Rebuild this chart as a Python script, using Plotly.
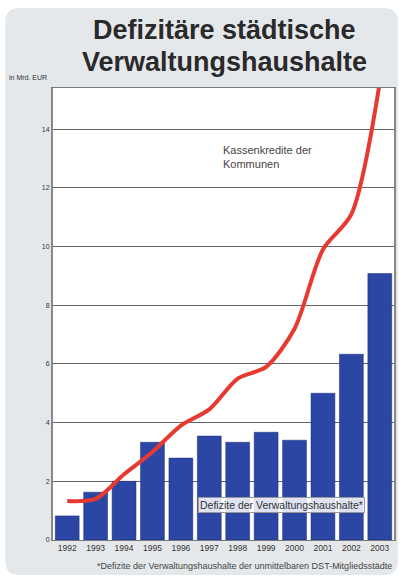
import plotly.graph_objects as go

years = ["1992", "1993", "1994", "1995", "1996", "1997", "1998", "1999", "2000", "2001", "2002", "2003"]
defizite = [0.82, 1.63, 2.0, 3.33, 2.79, 3.54, 3.33, 3.67, 3.40, 5.0, 6.33, 9.08]
kassenkredite = [1.33, 1.4, 2.24, 3.0, 3.9, 4.45, 5.5, 5.9, 7.2, 9.9, 11.1, 15.6]
y_ticks = [0, 2, 4, 6, 8, 10, 12, 14]

W, H = 404, 577
L, R, T, B = 53, 8, 88, 37


def px(xp):
    return (xp - L) / (W - L - R)


def py(yp):
    return (H - B - yp) / (H - T - B)


fig = go.Figure()
fig.add_trace(go.Bar(
    x=years, y=defizite,
    marker=dict(color="#2b46a4", line=dict(color="#1a2a78", width=0.5)),
    name="Defizite",
))
fig.add_trace(go.Scatter(
    x=years, y=kassenkredite, mode="lines",
    line=dict(color="#e63a30", width=4, shape="spline", smoothing=0.8),
    name="Kassenkredite", cliponaxis=True,
))

# card background
r = 14
x0, y0, x1, y1 = px(5), py(8), px(400), py(575)
rx, ry = r / (W - L - R), r / (H - T - B)
path = (f"M {x0+rx},{y0} L {x1-rx},{y0} Q {x1},{y0} {x1},{y0-ry} "
        f"L {x1},{y1+ry} Q {x1},{y1} {x1-rx},{y1} L {x0+rx},{y1} "
        f"Q {x0},{y1} {x0},{y1+ry} L {x0},{y0-ry} Q {x0},{y0} {x0+rx},{y0} Z")
fig.add_shape(type="path", path=path, xref="paper", yref="paper",
              fillcolor="#e5e8eb", line=dict(width=0), layer="below")
fig.add_shape(type="rect", xref="paper", yref="paper", x0=0, y0=0, x1=1, y1=1,
              fillcolor="white", line=dict(width=0), layer="below")

fig.add_annotation(text="<b>Defizitäre städtische</b>",
                   xref="paper", yref="paper", x=px(226), y=py(30),
                   showarrow=False, font=dict(family="Liberation Sans", size=27, color="#2a2a2a"),
                   xanchor="center", yanchor="middle")
fig.add_annotation(text="<b>Verwaltungshaushalte</b>",
                   xref="paper", yref="paper", x=px(226), y=py(62),
                   showarrow=False, font=dict(family="Liberation Sans", size=27, color="#2a2a2a"),
                   xanchor="center", yanchor="middle")
fig.add_annotation(text="in Mrd. EUR", xref="paper", yref="paper", x=px(7), y=py(77),
                   showarrow=False, xanchor="left", yanchor="middle",
                   font=dict(family="Liberation Sans", size=7, color="#333"))
fig.add_annotation(text="Kassenkredite der<br>Kommunen", xref="paper", yref="paper",
                   x=px(222), y=py(157), showarrow=False, xanchor="left", yanchor="middle",
                   align="left", font=dict(family="Liberation Sans", size=11, color="#444"))
fig.add_annotation(text="Defizite der Verwaltungshaushalte*", xref="paper", yref="paper",
                   x=px(283), y=py(505), showarrow=False, xanchor="center", yanchor="middle",
                   bgcolor="rgba(255,255,255,0.85)", bordercolor="#999", borderwidth=1, borderpad=1,
                   font=dict(family="Liberation Sans", size=10.5, color="#333"))
fig.add_annotation(text="*Defizite der Verwaltungshaushalte der unmittelbaren DST-Mitgliedsstädte",
                   xref="paper", yref="paper", x=px(396), y=py(566), showarrow=False,
                   xanchor="right", yanchor="middle",
                   font=dict(family="Liberation Sans", size=9, color="#444"))

fig.update_layout(
    width=W, height=H,
    margin=dict(l=L, r=R, t=T, b=B),
    paper_bgcolor="white", plot_bgcolor="rgba(0,0,0,0)",
    showlegend=False, bargap=0.16,
    xaxis=dict(type="category", showgrid=False, ticks="", showline=True, linecolor="#777",
               linewidth=1, mirror=True,
               tickfont=dict(family="Liberation Sans", size=8.5, color="#333")),
    yaxis=dict(range=[0, 15.4], tickvals=y_ticks, showgrid=True, gridcolor="#666", gridwidth=1,
               zeroline=False, showline=True, linecolor="#888", linewidth=2, mirror=True,
               ticks="", tickfont=dict(family="Liberation Sans", size=7, color="#333")),
)
fig.write_html("out.html", config={"displayModeBar": False},
               post_script="document.body.style.margin='0';")
